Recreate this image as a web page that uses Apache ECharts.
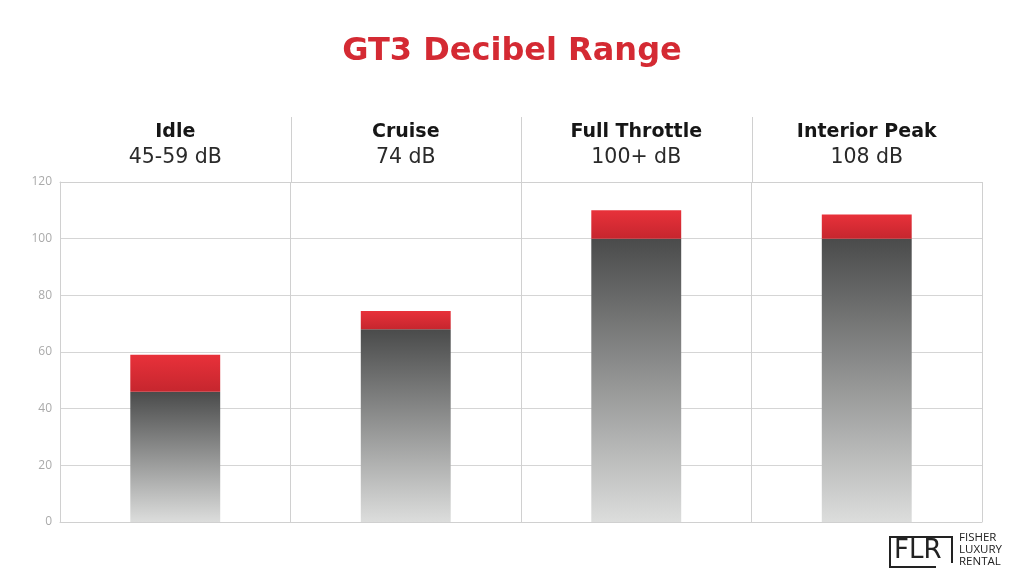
<!DOCTYPE html>
<html><head><meta charset="utf-8">
<script src="https://cdn.jsdelivr.net/npm/echarts@6/dist/echarts.min.js"></script>
<style>html,body{margin:0;padding:0;background:#fff}#c{width:1024px;height:572px}</style>
</head><body><div id="c"></div>
<script>
const categories = ['Idle', 'Cruise', 'Full Throttle', 'Interior Peak'];
const rangeLabels = ['45-59 dB', '74 dB', '100+ dB', '108 dB'];
const baseValues = [46, 68, 100, 100];
const peakValues = [59, 74.5, 110, 108.5];
const yTicks = [0, 20, 40, 60, 80, 100, 120];

const topPart = peakValues.map((v, i) => +(v - baseValues[i]).toFixed(2));
const FONT = '"Open Sans", sans-serif';
const WIDE = '"DejaVu Sans", sans-serif';

const chart = echarts.init(document.getElementById('c'), null, {renderer: 'canvas'});
const option = {
  backgroundColor: '#fff',
  animation: false,
  title: {
    text: 'GT3 Decibel Range', left: 'center', top: 31,
    textStyle: {color: '#d42a33', fontSize: 32, fontWeight: 'bold', fontFamily: WIDE}
  },
  grid: {left: 60, right: 42, top: 182, bottom: 50},
  xAxis: [{
    type: 'category', data: categories, position: 'bottom',
    axisLine: {show: true, lineStyle: {color: '#d0d0d0', width: 1}},
    axisTick: {show: false}, axisLabel: {show: false},
    splitLine: {show: true, lineStyle: {color: '#d0d0d0', width: 1}}
  }, {
    type: 'category', data: categories, position: 'top',
    axisLine: {show: true, lineStyle: {color: '#d0d0d0', width: 1}},
    axisTick: {show: false},
    axisLabel: {
      show: true, margin: 11,
      formatter: (v, i) => '{a|' + v + '}\n{b|' + rangeLabels[i] + '}',
      rich: {
        a: {fontSize: 19, fontWeight: 'bold', color: '#161616', fontFamily: WIDE, lineHeight: 26},
        b: {fontSize: 20.5, color: '#2a2a2a', fontFamily: WIDE, lineHeight: 26}
      }
    }
  }],
  yAxis: {
    type: 'value', min: 0, max: 120, interval: 20,
    axisLine: {show: true, lineStyle: {color: '#d0d0d0'}},
    axisTick: {show: false},
    axisLabel: {color: '#aaaaaa', fontSize: 12, fontFamily: FONT, margin: 8,
      formatter: v => yTicks.includes(v) ? String(v) : ''},
    splitLine: {lineStyle: {color: '#d5d5d5', width: 1}}
  },
  series: [{
    type: 'bar', stack: 'db', data: baseValues, barWidth: '39%',
    itemStyle: {color: new echarts.graphic.LinearGradient(0, 0, 0, 1, [
      {offset: 0, color: '#4a4b4b'}, {offset: 1, color: '#dcdddc'}])}
  }, {
    type: 'bar', stack: 'db', data: topPart, barWidth: '39%',
    itemStyle: {color: new echarts.graphic.LinearGradient(0, 0, 0, 1, [
      {offset: 0, color: '#e8313a'}, {offset: 1, color: '#c6262e'}])}
  }]
};
chart.setOption(option);

// divider lines extending above the plot, through the header area
const lines = [];
for (let i = 1; i < categories.length; i++) {
  const a = chart.convertToPixel({xAxisIndex: 0}, categories[i - 1]);
  const b = chart.convertToPixel({xAxisIndex: 0}, categories[i]);
  const x = Math.round((a + b) / 2) + 0.5;
  lines.push({type: 'line', shape: {x1: x, y1: 117, x2: x, y2: 182},
    style: {stroke: '#d0d0d0', lineWidth: 1}, silent: true});
}
// logo
lines.push(
  {type: 'polyline', shape: {points: [[944, 537], [890, 537], [890, 567], [936, 567]]},
   style: {fill: 'none', stroke: '#222', lineWidth: 2}},
  {type: 'polyline', shape: {points: [[944, 537], [952, 537], [952, 563]]},
   style: {fill: 'none', stroke: '#222', lineWidth: 2}},
  {type: 'text', left: 894, top: 538,
   style: {text: 'FLR', fill: '#222', font: '26px "DejaVu Sans", sans-serif'}},
  {type: 'text', left: 959, top: 532,
   style: {text: 'FISHER\nLUXURY\nRENTAL', fill: '#222', font: '11.5px "Open Sans", sans-serif', lineHeight: 12}}
);
chart.setOption({graphic: lines});
</script></body></html>
